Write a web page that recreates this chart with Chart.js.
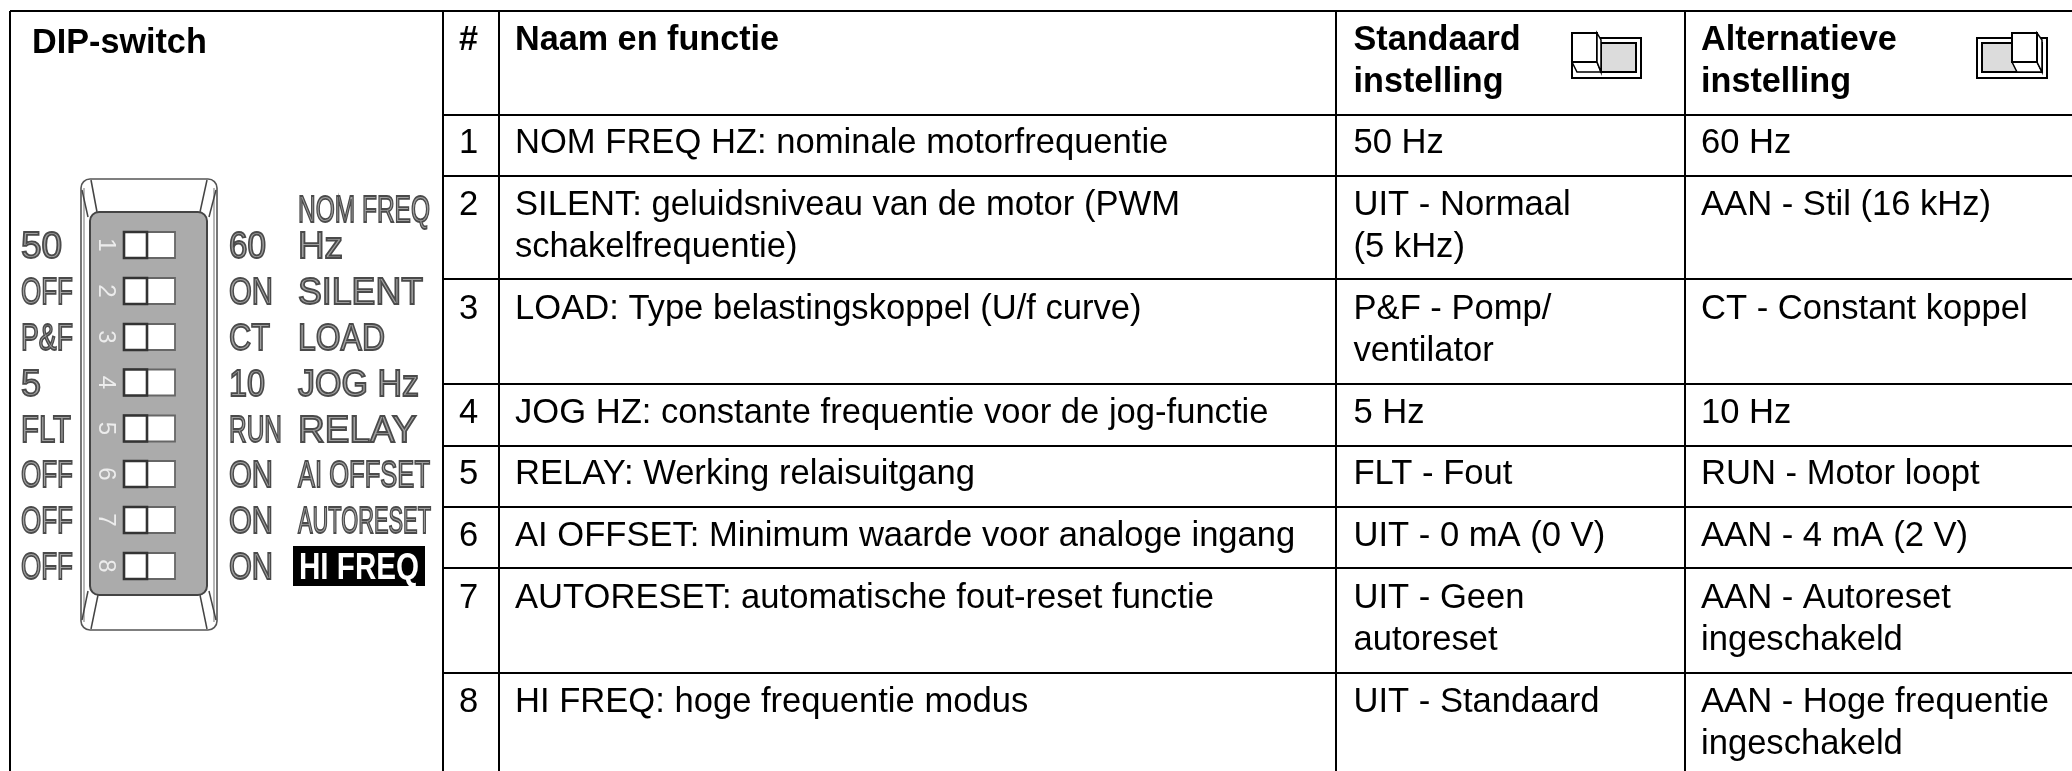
<!DOCTYPE html>
<html><head><meta charset="utf-8">
<style>html,body{margin:0;padding:0;background:#fff}canvas{display:block}</style>
<script src="https://cdn.jsdelivr.net/npm/chart.js@4"></script>
</head><body><canvas id="c" width="2072" height="771"></canvas>
<script>
const switchTitle = "DIP-switch";
const headNumber = "#";
const headName = "Naam en functie";
const headStandard = ["Standaard", "instelling"];
const headAlternative = ["Alternatieve", "instelling"];
const rowNumbers = ["1","2","3","4","5","6","7","8"];
const rowNames = [
  ["NOM FREQ HZ: nominale motorfrequentie"],
  ["SILENT: geluidsniveau van de motor (PWM","schakelfrequentie)"],
  ["LOAD: Type belastingskoppel (U/f curve)"],
  ["JOG HZ: constante frequentie voor de jog-functie"],
  ["RELAY: Werking relaisuitgang"],
  ["AI OFFSET: Minimum waarde voor analoge ingang"],
  ["AUTORESET: automatische fout-reset functie"],
  ["HI FREQ: hoge frequentie modus"]];
const rowStandard = [["50 Hz"],["UIT - Normaal","(5 kHz)"],["P&F - Pomp/","ventilator"],["5 Hz"],["FLT - Fout"],["UIT - 0 mA (0 V)"],["UIT - Geen","autoreset"],["UIT - Standaard"]];
const rowAlternative = [["60 Hz"],["AAN - Stil (16 kHz)"],["CT - Constant koppel"],["10 Hz"],["RUN - Motor loopt"],["AAN - 4 mA (2 V)"],["AAN - Autoreset","ingeschakeld"],["AAN - Hoge frequentie","ingeschakeld"]];
const dipLeft = ["50","OFF","P&F","5","FLT","OFF","OFF","OFF"];
const dipRight = ["60","ON","CT","10","RUN","ON","ON","ON"];
const dipNames = ["Hz","SILENT","LOAD","JOG Hz","RELAY","AI OFFSET","AUTORESET","HI FREQ"];
const dipNameTop = "NOM FREQ";

/* layout (separate from the content above) */
const W = 2072, H = 771;
const rowEdges = [11,115,176,279,384,446,507,568,673];
const colEdges = [443,499,1336,1685];
const baselines = [153,215,319,423,484,546,608,712];
const colText = {num:468.5, name:515, std:1353.5, alt:1701};
const dipY = [245,291,337,382.5,428.5,474,520,566];
const dipNameW = [45,125,87,121,123,132,133,120];
const dipLeftW = [42,52,52,20,50,52,52,52];
const dipRightW = [37,44,41,36,53,44,44,44];

const rules = [
  [[10,11],[W,11]], [[10,11],[10,H]],
  ...rowEdges.slice(1).map(y=>[[443,y],[W,y]]),
  ...colEdges.map(x=>[[x,11],[x,H]])
];

const FONT = '"Liberation Sans", Arial, sans-serif';
const tablePlugin = {
  id:'table',
  beforeDraw(chart){
    const c=chart.ctx; c.save(); c.fillStyle='#fff'; c.fillRect(0,0,W,H); c.restore();
  },
  afterDatasetsDraw(chart){
    const c=chart.ctx, X=v=>chart.scales.x.getPixelForValue(v), Y=v=>chart.scales.y.getPixelForValue(v);
    const text=(s,x,y,font,col='#000',align='left')=>{c.font=font;c.fillStyle=col;c.textAlign=align;c.textBaseline='alphabetic';c.fillText(s,X(x),Y(y));};
    const poly=(pts,fill,stroke,lw=2)=>{c.beginPath();pts.forEach((p,i)=>i?c.lineTo(X(p[0]),Y(p[1])):c.moveTo(X(p[0]),Y(p[1])));c.closePath();if(fill){c.fillStyle=fill;c.fill();}if(stroke){c.strokeStyle=stroke;c.lineWidth=lw;c.stroke();}};
    const rect=(x0,y0,x1,y1,fill,stroke,lw)=>poly([[x0,y0],[x1,y0],[x1,y1],[x0,y1]],fill,stroke,lw);
    const seg=(a,b,col,lw)=>{c.beginPath();c.moveTo(X(a[0]),Y(a[1]));c.lineTo(X(b[0]),Y(b[1]));c.strokeStyle=col;c.lineWidth=lw;c.stroke();};
    c.save();
    const body='34.6px '+FONT, bold='bold 34.2px '+FONT, LH=42;
    text(switchTitle,32,53,'bold 34.2px '+FONT);
    text(headNumber,468.5,50,bold,'#000','center');
    text(headName,515,50,bold);
    headStandard.forEach((s,i)=>text(s,colText.std,50+i*42,bold));
    headAlternative.forEach((s,i)=>text(s,colText.alt,50+i*42,bold));
    rowNumbers.forEach((n,i)=>{
      text(n,colText.num,baselines[i],body,'#000','center');
      rowNames[i].forEach((s,k)=>text(s,colText.name,baselines[i]+k*LH,body));
      rowStandard[i].forEach((s,k)=>text(s,colText.std,baselines[i]+k*LH,body));
      rowAlternative[i].forEach((s,k)=>text(s,colText.alt,baselines[i]+k*LH,body));
    });
    /* icons */
    rect(1572,38,1641,78,'#fff','#000',2);
    rect(1601,43,1636,72,'#dcdcdc','#000',2);
    poly([[1572,62],[1597,62],[1601,72],[1577,72]],'#fff','#000',1.5);
    rect(1572,33,1597,62,'#fff','#000',2);
    poly([[1597,33],[1601,40],[1601,72],[1597,62]],'#fff','#000',1.5);

    rect(1977,38,2047,78,'#fff','#000',2);
    rect(1982,43,2042,72,'#dcdcdc','#000',2);
    poly([[2012,62],[2037,62],[2042,72],[2017,72]],'#fff','#000',1.5);
    poly([[2037,33],[2042,40],[2042,72],[2037,62]],'#fff','#000',1.5);
    rect(2012,33,2037,62,'#fff','#000',2);

    /* DIP switch drawing */
    c.filter='blur(0.55px)';
    const rr=(x0,y0,x1,y1,r,fill,stroke,lw)=>{c.beginPath();c.roundRect(X(x0),Y(y0),X(x1)-X(x0),Y(y1)-Y(y0),r);if(fill){c.fillStyle=fill;c.fill();}if(stroke){c.strokeStyle=stroke;c.lineWidth=lw;c.stroke();}};
    rr(81,179,217,630,9,'#fff','#555',1.6);
    seg([84,188],[84,622],'#888',1.2);
    seg([214,188],[214,622],'#888',1.2);
    rr(90,212,207,595,9,'#ababab','#444',2);
    [[[91,180],[97,212]],[[82,190],[88,217]],[[207,180],[200,212]],[[216,190],[209,217]],
     [[91,629],[98,595]],[[82,620],[88,591]],[[207,629],[200,595]],[[216,620],[209,591]]]
      .forEach(s=>seg(s[0],s[1],'#444',1.5));
    dipY.forEach((y,i)=>{
      rect(124,y-13,175,y+13,'#fff','#666',1.8);
      rect(124,y-13,147,y+13,'#fff','#333',2.6);
      c.save();
      c.translate(X(106),Y(y)); c.rotate(Math.PI/2);
      c.font='24px '+FONT; c.fillStyle='#ececec'; c.textAlign='center'; c.textBaseline='middle';
      c.fillText(rowNumbers[i],0,0);
      c.restore();
    });
    const dipText=(s,x,y,w)=>{
      c.font='37px '+FONT; c.textAlign='left'; c.textBaseline='alphabetic';
      c.lineWidth=1.8; c.strokeStyle='#4a4a4a'; c.fillStyle='#a0a0a0';
      c.fillText(s,X(x),Y(y),w); c.strokeText(s,X(x),Y(y),w);
    };
    dipText(dipNameTop,298,222,132);
    dipLeft.forEach((s,i)=>dipText(s,21,dipY[i]+13,dipLeftW[i]));
    dipRight.forEach((s,i)=>dipText(s,229,dipY[i]+13,dipRightW[i]));
    dipNames.forEach((s,i)=>{
      if(i<7) dipText(s,298,dipY[i]+13,dipNameW[i]);
      else {
        rect(293,546,425,586,'#000',null);
        c.font='bold 36px '+FONT; c.fillStyle='#fff'; c.textAlign='left';
        c.fillText(s,X(299),Y(579),120);
      }
    });
    c.restore();
  }
};

new Chart(document.getElementById('c').getContext('2d'),{
  type:'scatter',
  data:{datasets:rules.map(r=>({data:r.map(p=>({x:p[0],y:p[1]})),showLine:true,pointRadius:0,borderColor:'#000',borderWidth:2,tension:0,clip:false}))},
  options:{
    responsive:false,animation:false,
    layout:{padding:0},
    plugins:{legend:{display:false},tooltip:{enabled:false},title:{display:false}},
    scales:{
      x:{type:'linear',min:0,max:W,display:false},
      y:{type:'linear',min:0,max:H,reverse:true,display:false}
    }
  },
  plugins:[tablePlugin]
});
</script></body></html>
